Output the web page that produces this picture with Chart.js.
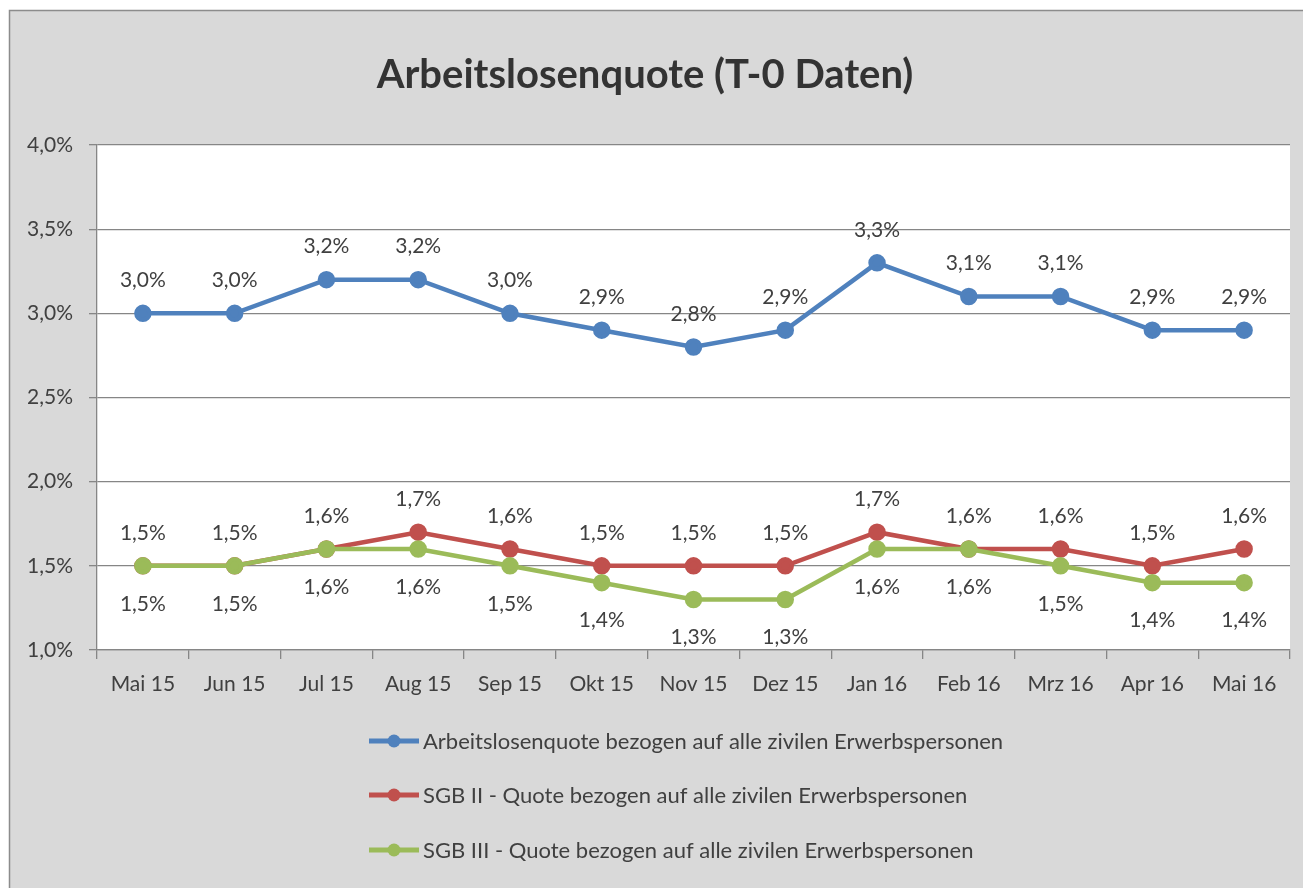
<!DOCTYPE html>
<html><head><meta charset="utf-8">
<script src="https://cdn.jsdelivr.net/npm/chart.js@4"></script>
<style>html,body{margin:0;padding:0;background:#fff}#wrap{width:1303px;height:888px}</style>
</head><body><div id="wrap"><canvas id="c" width="1303" height="888"></canvas></div>
<script>
const categories = ['Mai 15','Jun 15','Jul 15','Aug 15','Sep 15','Okt 15','Nov 15','Dez 15','Jan 16','Feb 16','Mrz 16','Apr 16','Mai 16'];
const seriesNames = ['Arbeitslosenquote bezogen auf alle zivilen Erwerbspersonen','SGB II - Quote bezogen auf alle zivilen Erwerbspersonen','SGB III - Quote bezogen auf alle zivilen Erwerbspersonen'];
const alqValues = [3.0,3.0,3.2,3.2,3.0,2.9,2.8,2.9,3.3,3.1,3.1,2.9,2.9];
const sgb2Values = [1.5,1.5,1.6,1.7,1.6,1.5,1.5,1.5,1.7,1.6,1.6,1.5,1.6];
const sgb3Values = [1.5,1.5,1.6,1.6,1.5,1.4,1.3,1.3,1.6,1.6,1.5,1.4,1.4];
const titleText = 'Arbeitslosenquote (T-0 Daten)';

const FONT = 'Lato, "Open Sans", sans-serif';
const TXT = '#404040';
const colors = ['#4F81BD','#C0504D','#9BBB59'];
const labelPos = ['above','above','below'];
const fmt = v => v.toFixed(1).replace('.', ',') + '%';

const bgPlugin = {
  id: 'bg',
  beforeDraw(chart) {
    const ctx = chart.ctx, a = chart.chartArea;
    ctx.save();
    ctx.fillStyle = '#ffffff';
    ctx.fillRect(0,0,chart.width,chart.height);
    ctx.fillStyle = '#d9d9d9';
    ctx.fillRect(9,10,chart.width,chart.height);
    ctx.strokeStyle = '#8c8c8c';
    ctx.lineWidth = 1.5;
    ctx.strokeRect(9.5,10.5,chart.width+20,chart.height+20);
    ctx.fillStyle = '#ffffff';
    ctx.fillRect(a.left, a.top, a.right - a.left, a.bottom - a.top);
    ctx.restore();
  }
};

const labelPlugin = {
  id: 'vlabels',
  afterDatasetsDraw(chart) {
    const ctx = chart.ctx;
    ctx.save();
    ctx.font = '21px ' + FONT;
    ctx.fillStyle = TXT;
    ctx.textAlign = 'center';
    ctx.textBaseline = 'middle';
    chart.data.datasets.forEach((ds, i) => {
      const meta = chart.getDatasetMeta(i);
      meta.data.forEach((pt, j) => {
        const dy = labelPos[i] === 'above' ? -33 : 38;
        ctx.fillText(fmt(ds.data[j]), pt.x, pt.y + dy);
      });
    });
    ctx.restore();
  }
};

const legendPlugin = {
  id: 'vlegend',
  afterDraw(chart) {
    const ctx = chart.ctx;
    ctx.save();
    ctx.font = '22px ' + FONT;
    ctx.textBaseline = 'middle';
    ctx.textAlign = 'left';
    const rows = [741, 795, 850];
    chart.data.datasets.forEach((ds, i) => {
      const y = rows[i];
      ctx.strokeStyle = ds.borderColor;
      ctx.lineWidth = 5;
      ctx.beginPath(); ctx.moveTo(369, y); ctx.lineTo(419, y); ctx.stroke();
      ctx.fillStyle = ds.borderColor;
      ctx.beginPath(); ctx.arc(394, y, 6.5, 0, Math.PI*2); ctx.fill();
      ctx.fillStyle = TXT;
      ctx.fillText(ds.label, 423, y + 1);
    });
    ctx.restore();
  }
};

const drawOrder = [2, 1, 0];
const datasets = [alqValues, sgb2Values, sgb3Values].map((vals, i) => ({
  label: seriesNames[i],
  data: vals,
  order: drawOrder[i],
  borderColor: colors[i],
  backgroundColor: colors[i],
  pointBackgroundColor: colors[i],
  pointBorderColor: colors[i],
  borderWidth: 4.5,
  pointRadius: 6.5,
  pointHoverRadius: 6.5,
  tension: 0,
  fill: false
}));

new Chart(document.getElementById('c'), {
  type: 'line',
  data: { labels: categories, datasets },
  plugins: [bgPlugin, labelPlugin, legendPlugin],
  options: {
    responsive: false,
    animation: false,
    devicePixelRatio: 1,
    layout: { padding: { left: 0, right: 13, top: 0, bottom: 178 } },
    plugins: {
      legend: { display: false },
      tooltip: { enabled: false },
      title: {
        display: true,
        text: titleText,
        color: '#333333',
        font: { family: FONT, size: 40, weight: 'bold', lineHeight: 1.2 },
        padding: { top: 51, bottom: 46 }
      }
    },
    scales: {
      x: {
        offset: true,
        grid: { display: true, drawOnChartArea: false, drawTicks: true, tickLength: 9, color: '#868686', lineWidth: 1.3, offset: true },
        border: { color: '#868686', width: 1.3 },
        ticks: { color: TXT, font: { family: FONT, size: 21 }, padding: 13, maxRotation: 0, autoSkip: false },
        afterFit(s) { s.height = 60; }
      },
      y: {
        min: 1.0, max: 4.0,
        grid: { color: '#868686', lineWidth: 1.3, tickLength: 8, drawTicks: true },
        border: { color: '#868686', width: 1.3 },
        ticks: { stepSize: 0.5, color: TXT, font: { family: FONT, size: 21 }, padding: 16, callback: v => fmt(v) },
        afterFit(s) { s.width = 97; }
      }
    }
  }
});
</script></body></html>
